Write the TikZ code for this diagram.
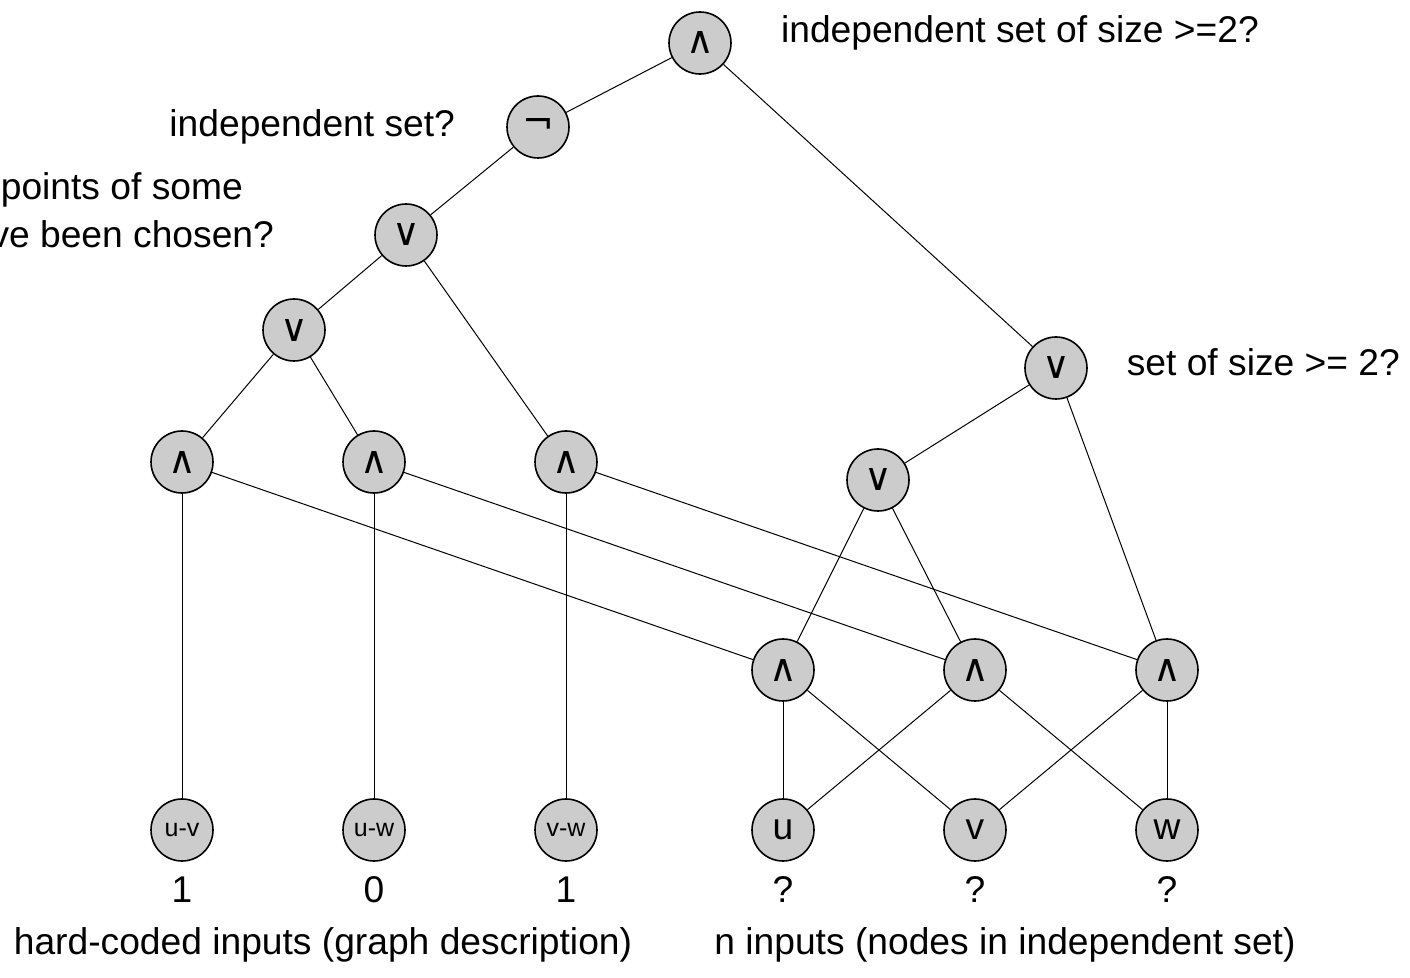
\documentclass[tikz,border=0pt]{standalone}
\usepackage{fontspec}
\setmainfont{Liberation Sans}
\newfontfamily\opfont{DejaVu Sans}
\usepackage{tikz}
\usetikzlibrary{positioning}

\begin{document}
\begin{tikzpicture}[
  x=0.5pt,y=-0.5pt,
  every node/.style={font=\fontsize{18.6}{24}\selectfont},
  gate/.style={circle,draw=black,line width=0.8pt,fill=black!20,minimum size=31pt,inner sep=0pt,font=\opfont\fontsize{19}{19}\selectfont},
  pairin/.style={gate,font=\fontsize{12.5}{14}\selectfont},
  var/.style={gate,font=\fontsize{18.6}{19}\selectfont},
  wire/.style={line width=0.5pt,draw=black}
]
\useasboundingbox (0,0) rectangle (1410,978);
% gates
\node[gate] (top)  at (700,43)  {∧};
\node[gate] (neg)  at (538,127) {¬};
\node[gate] (orA)  at (406,235) {∨};
\node[gate] (orB)  at (294,330) {∨};
\node[gate] (andA) at (182,462) {∧};
\node[gate] (andB) at (374,462) {∧};
\node[gate] (andC) at (566,462) {∧};
\node[gate] (orR)  at (1056,368) {∨};
\node[gate] (orM)  at (878,480) {∨};
\node[gate] (andX) at (783,670) {∧};
\node[gate] (andY) at (975,670) {∧};
\node[gate] (andZ) at (1167,670) {∧};
% inputs
\node[pairin] (euv) at (182,830) {u-v};
\node[pairin] (euw) at (374,830) {u-w};
\node[pairin] (evw) at (566,830) {v-w};
\node[var]  (nu)  at (783,830) {u};
\node[var]  (nv)  at (975,830) {v};
\node[var]  (nw)  at (1167,830) {w};
% values
\node (valuv) at (182,890) {1};
\node (valuw) at (374,890) {0};
\node (valvw) at (566,890) {1};
\node (valu)  at (783,890) {?};
\node (valv)  at (975,890) {?};
\node (valw)  at (1167,890) {?};
% labels
\node[anchor=west] (qtop) at (774,33) {independent set of size >=2?};
\node[anchor=east] (qneg) at (462,127) {independent set?};
\node[anchor=east,align=left] (qor) at (281,214) {both endpoints of some\\edge have been chosen?};
\node[right=16pt of orR,yshift=3pt] (qsize) {set of size >= 2?};
\node (hard) at (323,945) {hard-coded inputs (graph description)};
\node (soft) at (1005,945) {n inputs (nodes in independent set)};
% wires
\draw[wire] (top)--(neg);
\draw[wire] (top)--(orR);
\draw[wire] (neg)--(orA);
\draw[wire] (orA)--(orB);
\draw[wire] (orA)--(andC);
\draw[wire] (orB)--(andA);
\draw[wire] (orB)--(andB);
\draw[wire] (andA)--(euv);
\draw[wire] (andB)--(euw);
\draw[wire] (andC)--(evw);
\draw[wire] (andA)--(andX);
\draw[wire] (andB)--(andY);
\draw[wire] (andC)--(andZ);
\draw[wire] (orR)--(orM);
\draw[wire] (orR)--(andZ);
\draw[wire] (orM)--(andX);
\draw[wire] (orM)--(andY);
\draw[wire] (andX)--(nu);
\draw[wire] (andX)--(nv);
\draw[wire] (andY)--(nu);
\draw[wire] (andY)--(nw);
\draw[wire] (andZ)--(nv);
\draw[wire] (andZ)--(nw);
\end{tikzpicture}
\end{document}
